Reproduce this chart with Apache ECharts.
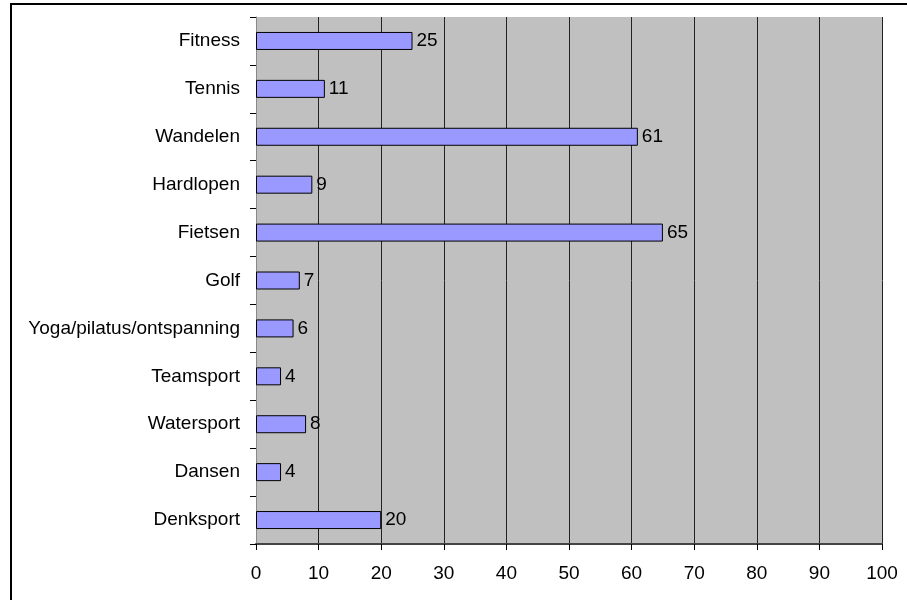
<!DOCTYPE html>
<html><head><meta charset="utf-8">
<script src="https://cdn.jsdelivr.net/npm/echarts@6/dist/echarts.min.js"></script>
<style>html,body{margin:0;padding:0;background:#fff}#c{width:907px;height:600px}</style>
</head><body><div id="c"></div>
<script>
var categories = ["Fitness","Tennis","Wandelen","Hardlopen","Fietsen","Golf","Yoga/pilatus/ontspanning","Teamsport","Watersport","Dansen","Denksport"];
var values = [25,11,61,9,65,7,6,4,8,4,20];
var xTicks = [0,10,20,30,40,50,60,70,80,90,100];

var chart = echarts.init(document.getElementById('c'));
chart.setOption({
  animation: false,
  textStyle: {fontFamily: 'Liberation Sans, Arial, sans-serif'},
  graphic: [{type:'rect', shape:{x:11,y:4,width:910,height:610}, style:{fill:null, stroke:'#000', lineWidth:2}, z:-10}],
  grid: {left:256, top:17, width:626, height:527, backgroundColor:'#C0C0C0', show:true, borderWidth:0},
  xAxis: {
    type:'value', min:xTicks[0], max:xTicks[xTicks.length-1], interval:10,
    axisLine:{show:true, lineStyle:{color:'#444', width:2}},
    axisTick:{show:true, length:6, lineStyle:{color:'#000'}},
    axisLabel:{color:'#000', fontSize:19, margin:20},
    splitLine:{show:true, lineStyle:{color:'#222', width:1}}
  },
  yAxis: {
    type:'category', data:categories, inverse:true,
    axisLine:{show:true, lineStyle:{color:'#888', width:1}},
    axisTick:{show:true, length:6, lineStyle:{color:'#000'}},
    axisLabel:{color:'#000', fontSize:19, margin:16},
    splitLine:{show:false}
  },
  series: [{
    type:'bar', data:values, barWidth:18,
    itemStyle:{color:'#9999FF', borderColor:'#000', borderWidth:1},
    label:{show:true, position:'right', color:'#000', fontSize:19, distance:4}
  }]
});
</script></body></html>
